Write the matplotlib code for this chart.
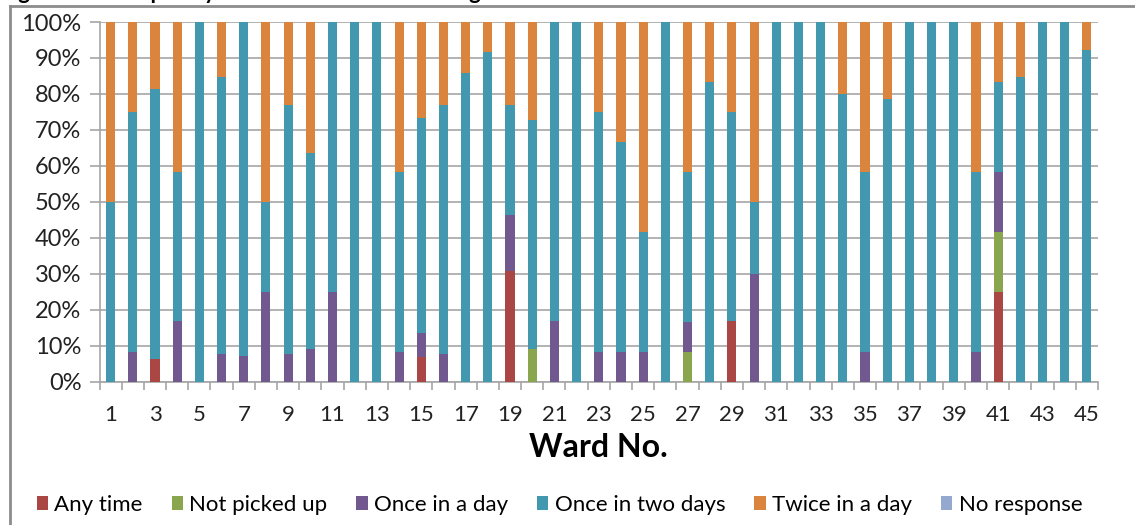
import numpy as np
import matplotlib
matplotlib.use("Agg")
import matplotlib.pyplot as plt
from matplotlib.patches import Patch
from matplotlib.lines import Line2D

plt.rcParams['font.family'] = ['Lato', 'DejaVu Sans']

# Ward numbers and response shares (%)
wards = list(range(1, 46))

any_time = [0, 0, 6.25, 0, 0, 0, 0, 0, 0, 0,
            0, 0, 0, 0, 6.7, 0, 0, 0, 30.8, 0,
            0, 0, 0, 0, 0, 0, 0, 0, 16.7, 0,
            0, 0, 0, 0, 0, 0, 0, 0, 0, 0,
            25, 0, 0, 0, 0]
not_picked = [0, 0, 0, 0, 0, 0, 0, 0, 0, 0,
              0, 0, 0, 0, 0, 0, 0, 0, 0, 9.1,
              0, 0, 0, 0, 0, 0, 8.3, 0, 0, 0,
              0, 0, 0, 0, 0, 0, 0, 0, 0, 0,
              16.7, 0, 0, 0, 0]
once_day = [0, 8.3, 0, 16.7, 0, 7.7, 7.1, 25, 7.7, 9.1,
            25, 0, 0, 8.3, 6.7, 7.7, 0, 0, 15.4, 0,
            16.7, 0, 8.3, 8.3, 8.3, 0, 8.3, 0, 0, 30,
            0, 0, 0, 0, 8.3, 0, 0, 0, 0, 8.3,
            16.7, 0, 0, 0, 0]
once_two_days = [50, 66.7, 75, 41.7, 100, 76.9, 92.9, 25, 69.2, 54.5,
                 75, 100, 100, 50, 60, 69.2, 85.7, 91.7, 30.8, 63.6,
                 83.3, 100, 66.7, 58.3, 33.3, 100, 41.7, 83.3, 58.3, 20,
                 100, 100, 100, 80, 50, 78.6, 100, 100, 100, 50,
                 25, 84.6, 100, 100, 92.3]
twice_day = [50, 25, 18.75, 41.7, 0, 15.4, 0, 50, 23.1, 36.4,
             0, 0, 0, 41.7, 26.7, 23.1, 14.3, 8.3, 23.1, 27.3,
             0, 0, 25, 33.3, 58.3, 0, 41.7, 16.7, 25, 50,
             0, 0, 0, 20, 41.7, 21.4, 0, 0, 0, 41.7,
             16.7, 15.4, 0, 0, 7.7]
no_response = [0] * 45

series = [
    ("Any time", any_time, "#AA4643"),
    ("Not picked up", not_picked, "#89A54E"),
    ("Once in a day", once_day, "#71588F"),
    ("Once in two days", once_two_days, "#4198AF"),
    ("Twice in a day", twice_day, "#DB843D"),
    ("No response", no_response, "#93A9CF"),
]

fig = plt.figure(figsize=(11.35, 5.25), dpi=100)
ax = fig.add_axes([0.0877, 0.2733, 0.8797, 0.6847])

x = np.array(wards)
bottom = np.zeros(len(wards))
for name, vals, col in series:
    v = np.array(vals, dtype=float)
    ax.bar(x, v, 0.41, bottom=bottom, color=col, edgecolor='none', zorder=3)
    bottom += v

ax.set_xlim(0.5, 45.5)
ax.set_ylim(0, 100)
ax.set_yticks(np.arange(0, 101, 10))
ax.set_yticklabels([f"{v}%" for v in range(0, 101, 10)], fontsize=17, color='#222222')
ax.yaxis.grid(True, color='#a6a6a6', linewidth=1.2, zorder=0)
ax.tick_params(axis='y', length=7, color='#a6a6a6', width=1.2, pad=6)

ax.set_xticks(wards[::2])
ax.set_xticklabels([str(w) for w in wards[::2]], fontsize=16, color='#222222')
ax.set_xticks(np.arange(0.5, 46, 1), minor=True)
ax.tick_params(axis='x', which='major', length=0, pad=17)
ax.tick_params(axis='x', which='minor', length=6, color='#a6a6a6', width=1.2)
ax.set_xlabel("Ward No.", fontsize=23, fontweight='bold', labelpad=6)

for s in ['top', 'right']:
    ax.spines[s].set_visible(False)
for s in ['left', 'bottom']:
    ax.spines[s].set_color('#a6a6a6')
    ax.spines[s].set_linewidth(1.2)

handles = [Patch(facecolor=c, edgecolor='none') for _, _, c in series]
labels = [n for n, _, _ in series]
fig.legend(handles, labels, loc='center', bbox_to_anchor=(0.493, 0.038), ncol=6,
           frameon=False, fontsize=16, handlelength=0.5, handleheight=0.55,
           handletextpad=0.3, columnspacing=1.3)

# chart frame (partly cut off)
fig.add_artist(Line2D([10 / 1135, 10 / 1135], [0, 1 - 6 / 525], transform=fig.transFigure,
                      color='#8c8c8c', linewidth=2))
fig.add_artist(Line2D([10 / 1135, 1], [1 - 6 / 525, 1 - 6 / 525], transform=fig.transFigure,
                      color='#8c8c8c', linewidth=2))

# title, mostly cut off at the top as in the source
fig.text(0.0, 1 + 1 / 525, "Figure 4.2: Frequency of waste collection among wards",
         fontsize=16, fontweight='bold', va='baseline', ha='left')

fig.savefig("out.png", dpi=100)
